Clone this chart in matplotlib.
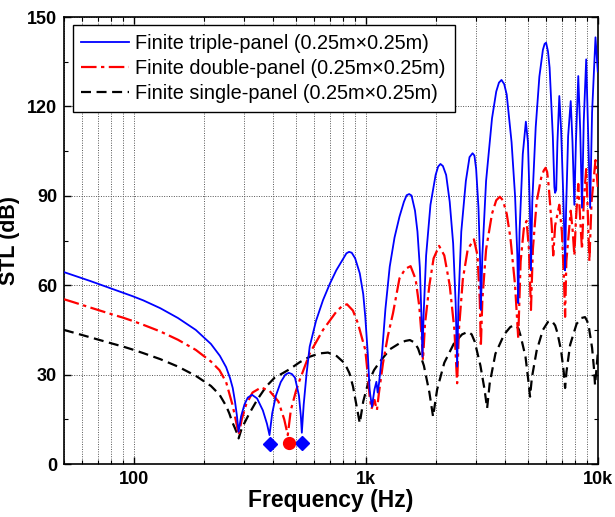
import matplotlib
matplotlib.use("Agg")
import matplotlib.pyplot as plt
from matplotlib.ticker import FixedLocator, LogLocator, NullFormatter, MultipleLocator

plt.rcParams['font.family'] = ['Liberation Sans', 'DejaVu Sans']

# ---- data: (frequency Hz, STL dB) ----
triple_pts = [
    (50, 64.4), (55, 63.3), (65, 61.4), (80, 58.9), (90, 57.5), (99, 56.3), (110, 54.9), (130, 52.3),
    (155, 49.0), (185, 45.0), (215, 40.3), (235, 36.3), (250, 32.5), (260, 28.8), (267, 25.5), (273, 21),
    (278, 16.5), (283, 10.8), (290, 16), (300, 20), (310, 22.3), (323.6, 23.2), (340, 22), (360, 18),
    (375, 13.5), (384.6, 9.7), (395, 17), (410, 23), (430, 27.5), (450, 30), (465.6, 30.6), (480, 30.2),
    (495, 29), (515, 23), (525, 16), (530, 10.5), (540, 20), (555, 30), (573, 39.4), (610, 48), (654, 55),
    (700, 60.5), (746, 65), (800, 69), (825, 70.7), (847, 71.2), (870, 70.9), (900, 69), (942, 64), (975, 57),
    (995, 49.4), (1020, 37), (1039, 24.8), (1063, 19.2), (1090, 25), (1111, 27.6), (1125, 24), (1140, 27),
    (1172, 36), (1215, 52), (1268, 66.2), (1330, 76), (1397, 83), (1460, 88), (1500, 90.2), (1538, 90.6),
    (1575, 90.1), (1630, 85), (1670, 78), (1710, 66), (1740, 48), (1754, 36), (1775, 50), (1820, 70),
    (1900, 87), (2000, 97), (2050, 99.8), (2098, 100.7), (2150, 100), (2220, 97), (2300, 88), (2380, 74),
    (2440, 54), (2476, 32.7), (2510, 55), (2580, 78), (2700, 95), (2800, 103), (2886, 104.3), (2940, 103.5),
    (2990, 99), (3060, 86), (3110, 68), (3133, 51.7), (3180, 70), (3300, 95), (3500, 116), (3650, 125),
    (3750, 128), (3846, 128.9), (3950, 127.5), (4050, 124), (4250, 108), (4400, 90), (4500, 70), (4540, 54),
    (4600, 78), (4750, 104), (4898, 114.9), (5000, 108), (5100, 85), (5152, 65), (5220, 88), (5400, 113),
    (5600, 130), (5800, 139), (5900, 141), (5986, 141.4), (6100, 138.5), (6200, 133), (6400, 110), (6500, 93),
    (6546, 91), (6620, 92), (6700, 108), (6826, 123.5), (6950, 112), (7100, 90), (7200, 72), (7230, 65),
    (7300, 85), (7450, 110), (7645, 121.8), (7780, 108), (7925, 87), (8050, 108), (8240, 130.2), (8400, 112),
    (8550, 86), (8700, 115), (8913, 135.8), (9100, 110), (9270, 86), (9450, 118), (9775, 143.2),
    (10000, 131.7)]

double_pts = [
    (50, 55.3), (55, 54.3), (65, 52.5), (80, 50.3), (90, 49.1), (99, 48.0), (110, 46.7), (130, 44.5),
    (155, 41.7), (185, 38.3), (215, 34.4), (234, 31.5), (250, 27.5), (258, 23.7), (266, 20), (273, 16),
    (278, 13), (283, 9.7), (292, 15), (305, 20), (325, 24), (354, 25.7), (385, 24.5), (420, 21), (445, 15),
    (461, 9.7), (475, 18), (500, 24.5), (519, 28.2), (573, 37.1), (654, 45), (746, 51.1), (790, 53),
    (830, 53.6), (880, 51.5), (925, 47.2), (965, 42), (995, 38.3), (1020, 30), (1039, 22.6), (1058, 18.5),
    (1075, 20), (1091, 21.5), (1105, 19.5), (1117, 18.1), (1140, 24), (1186, 33.8), (1245, 43), (1310, 50.6),
    (1397, 62.3), (1480, 65.5), (1560, 66.4), (1640, 62), (1700, 53), (1740, 43), (1764, 34.9), (1800, 47),
    (1880, 60), (1960, 69), (2070, 73.2), (2180, 70), (2300, 60), (2410, 45), (2476, 27.1), (2520, 45),
    (2620, 62), (2750, 72), (2925, 75.4), (3030, 70), (3100, 55), (3133, 39.4), (3180, 55), (3300, 72),
    (3500, 84), (3650, 88.5), (3784, 89.7), (3900, 88.5), (4050, 84), (4200, 76), (4400, 60), (4540, 42.3),
    (4650, 68), (4800, 79), (4932, 81.6), (5050, 72), (5152, 51.7), (5250, 72), (5450, 88), (5700, 96),
    (5850, 98.5), (5957, 99.4), (6050, 98), (6150, 93), (6330, 80), (6427, 70), (6550, 80), (6826, 87),
    (7000, 78), (7150, 62), (7230, 49.4), (7320, 68), (7645, 85), (7800, 78), (7925, 70), (8050, 82),
    (8240, 94), (8400, 82), (8550, 72), (8700, 88), (8913, 99), (9050, 85), (9200, 68), (9400, 88),
    (9775, 102), (10000, 93)]

single_pts = [
    (50, 45.0), (55, 44.1), (65, 42.5), (80, 40.5), (90, 39.4), (99, 38.4), (110, 37.2), (130, 35.2),
    (155, 32.7), (185, 29.6), (215, 26.2), (234, 23.3), (250, 19.5), (258, 17), (266, 14), (273, 12),
    (278, 10.5), (283, 8.6), (292, 12), (315, 17), (340, 21.5), (372, 26), (405, 29), (439, 30.5),
    (469, 31.8), (520, 34.2), (573, 36), (630, 37.1), (687, 37.4), (750, 36.2), (811, 33.8), (850, 30.5),
    (881, 26), (910, 20), (942, 13.7), (975, 21), (1023, 27.1), (1085, 31.5), (1149, 34.3), (1270, 38.5),
    (1397, 40.5), (1480, 41.3), (1549, 41.6), (1620, 40.8), (1680, 38.8), (1780, 33), (1880, 24),
    (1950, 15.9), (2030, 25), (2180, 34), (2400, 40.5), (2600, 43.5), (2761, 44.4), (2860, 43.5), (2950, 41),
    (3120, 33), (3250, 25), (3334, 18.7), (3420, 27), (3620, 37), (3950, 43.5), (4200, 46), (4395, 46.6),
    (4550, 45.5), (4650, 43), (4880, 36), (5020, 28), (5105, 22.6), (5200, 29), (5450, 38), (5800, 45),
    (6100, 47.7), (6324, 48.1), (6550, 46.5), (6700, 44), (6950, 38), (7130, 31), (7230, 25.5), (7330, 31),
    (7600, 40), (8100, 47), (8500, 49), (8810, 49.3), (9000, 48), (9150, 46), (9450, 39), (9630, 32),
    (9730, 26.5), (9850, 31), (10000, 37.2)]

f_triple = [p[0] for p in triple_pts]
stl_triple = [p[1] for p in triple_pts]
f_double = [p[0] for p in double_pts]
stl_double = [p[1] for p in double_pts]
f_single = [p[0] for p in single_pts]
stl_single = [p[1] for p in single_pts]

marker_triple_f = [385, 533]
marker_triple_y = [6.7, 7.2]
marker_double_f = [466]
marker_double_y = [7.2]

labels = ["Finite triple-panel (0.25m\u00d70.25m)",
          "Finite double-panel (0.25m\u00d70.25m)",
          "Finite single-panel (0.25m\u00d70.25m)"]

xtick_vals = [100, 1000, 10000]
xtick_labels = ["100", "1k", "10k"]
ytick_vals = [0, 30, 60, 90, 120, 150]

# ---- figure ----
fig = plt.figure(figsize=(6.15, 5.17), dpi=100)
ax = fig.add_axes([0.104, 0.1025, 0.868, 0.8645])

ax.plot(f_triple, stl_triple, color='#0000ff', lw=1.3, ls='-', label=labels[0], zorder=4)
ax.plot(f_double, stl_double, color='#ff0000', lw=1.6, ls=(0, (7, 2, 1.5, 2)), label=labels[1], zorder=3)
ax.plot(f_single, stl_single, color='black', lw=1.6, ls=(0, (4.5, 2.5)), label=labels[2], zorder=2)

ax.plot(marker_triple_f, marker_triple_y, ls='none', marker='D', ms=7, color='#0000ff', zorder=5, clip_on=False)
ax.plot(marker_double_f, marker_double_y, ls='none', marker='o', ms=8.5, color='#ff0000', zorder=5, clip_on=False)

ax.set_xscale('log')
ax.set_xlim(50, 10000)
ax.set_ylim(0, 150)

ax.xaxis.set_major_locator(FixedLocator(xtick_vals))
ax.set_xticklabels(xtick_labels)
ax.xaxis.set_minor_locator(LogLocator(base=10, subs=[2, 3, 4, 5, 6, 7, 8, 9]))
ax.xaxis.set_minor_formatter(NullFormatter())
ax.yaxis.set_major_locator(FixedLocator(ytick_vals))
ax.yaxis.set_minor_locator(MultipleLocator(15))

ax.grid(True, which='major', axis='both', color='#555555', ls=(0, (1, 1.5)), lw=0.7)
ax.grid(True, which='minor', axis='x', color='#555555', ls=(0, (1, 1.5)), lw=0.7)

ax.tick_params(which='both', direction='in', top=True, right=True)
ax.tick_params(which='major', length=5, width=1, labelsize=13, pad=5)
ax.tick_params(which='minor', length=3, width=0.8)
for lbl in ax.get_xticklabels() + ax.get_yticklabels():
    lbl.set_fontweight('bold')
for sp in ax.spines.values():
    sp.set_linewidth(1.2)

ax.set_xlabel("Frequency (Hz)", fontsize=16.5, fontweight='bold', labelpad=1)
ax.set_ylabel("STL (dB)", fontsize=15.5, fontweight='bold')
ax.yaxis.set_label_coords(-0.082, 0.5)

leg = ax.legend(loc='upper left', bbox_to_anchor=(0.016, 0.982), fontsize=14.3, frameon=True,
                fancybox=False, edgecolor='black', framealpha=1, handlelength=2.4, handletextpad=0.3,
                labelspacing=0.3, borderpad=0.45, borderaxespad=0)
leg.get_frame().set_linewidth(1.0)

fig.savefig("out.png", dpi=100)
